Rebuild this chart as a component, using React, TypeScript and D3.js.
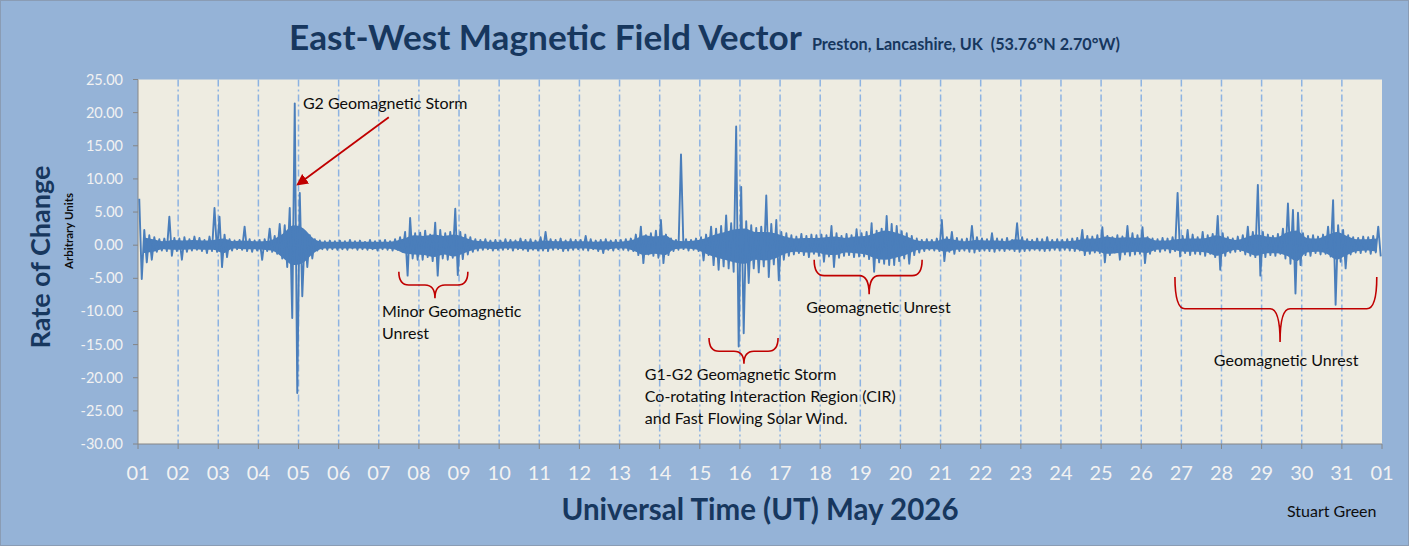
import React, { useEffect, useRef } from 'react'
import * as d3 from 'd3'

// tick labels
const dayLabels = [
  '01', '02', '03', '04', '05', '06', '07', '08', '09', '10', '11', '12', '13', '14', '15', '16',
  '17', '18', '19', '20', '21', '22', '23', '24', '25', '26', '27', '28', '29', '30', '31', '01',
]
const yTicks = [25, 20, 15, 10, 5, 0, -5, -10, -15, -20, -25, -30]

// peak envelope: one row per day (May 1..31), eight 3-hour blocks per row
const blockHigh = [
  [7.0, 2.3, 1.5, 1.2, 0.9, 1.0, 4.3, 1.1],
  [1.0, 1.2, 0.9, 1.3, 1.1, 0.8, 1.3, 5.6],
  [4.3, 1.6, 0.9, 0.7, 0.8, 2.8, 0.9, 0.7],
  [0.8, 0.9, 2.5, 1.4, 3.2, 3.0, 5.6, 21.4],
  [7.9, 1.8, 1.5, 0.9, 0.7, 0.6, 0.7, 0.6],
  [0.7, 0.6, 0.8, 0.6, 0.7, 0.5, 0.8, 0.6],
  [0.7, 0.8, 0.6, 0.9, 1.2, 2.0, 4.1, 1.8],
  [1.9, 2.2, 1.6, 3.4, 2.3, 1.8, 2.0, 5.5],
  [2.0, 1.6, 1.2, 0.9, 0.8, 0.9, 0.7, 0.8],
  [0.7, 0.9, 0.8, 0.7, 1.0, 0.8, 0.9, 0.7],
  [1.2, 2.0, 0.9, 0.8, 1.0, 0.7, 0.9, 0.8],
  [0.8, 1.4, 0.9, 0.7, 0.8, 0.9, 0.7, 0.8],
  [0.8, 0.9, 1.0, 1.6, 2.8, 1.5, 1.8, 2.2],
  [3.8, 1.6, 1.0, 0.8, 13.7, 0.9, 0.8, 1.0],
  [1.2, 1.6, 2.8, 2.5, 2.9, 4.5, 3.3, 17.9],
  [8.8, 3.6, 3.0, 2.6, 2.8, 7.5, 3.2, 3.8],
  [2.0, 1.8, 1.5, 1.3, 1.7, 1.4, 1.6, 1.5],
  [1.6, 1.5, 2.9, 1.8, 1.4, 1.7, 1.5, 2.4],
  [1.8, 2.0, 3.3, 2.2, 2.5, 4.4, 3.2, 2.9],
  [2.1, 1.8, 1.4, 1.0, 0.8, 0.9, 0.8, 1.0],
  [3.8, 1.2, 2.0, 1.1, 0.9, 1.0, 2.9, 1.2],
  [1.0, 0.9, 1.8, 1.0, 0.9, 1.1, 0.8, 3.3],
  [1.2, 0.9, 0.8, 1.0, 0.9, 1.2, 0.8, 0.9],
  [0.8, 0.9, 1.0, 1.1, 2.3, 1.4, 1.3, 1.5],
  [2.7, 1.4, 1.2, 1.5, 1.3, 2.9, 1.8, 1.5],
  [2.7, 1.2, 1.0, 0.9, 1.1, 1.0, 1.2, 7.9],
  [1.4, 2.3, 1.6, 1.2, 2.0, 1.5, 1.7, 4.4],
  [1.8, 1.2, 1.0, 1.3, 1.5, 2.8, 2.0, 9.1],
  [2.0, 1.6, 1.4, 1.7, 2.5, 6.3, 5.3, 4.9],
  [1.8, 1.4, 1.5, 1.3, 1.6, 2.8, 6.8, 3.0],
  [2.3, 1.5, 1.2, 1.1, 1.3, 1.2, 1.4, 2.8],
]
const blockLow = [
  [-5.1, -2.6, -2.2, -1.0, -0.8, -0.9, -1.6, -0.9],
  [-2.2, -1.0, -0.8, -0.7, -0.9, -1.2, -0.9, -1.0],
  [-3.3, -1.8, -0.8, -0.6, -0.7, -0.9, -1.0, -0.8],
  [-2.2, -0.9, -1.0, -1.3, -2.0, -3.3, -11.0, -22.3],
  [-7.7, -3.3, -2.0, -0.8, -0.6, -0.7, -0.6, -0.7],
  [-0.6, -0.7, -0.5, -0.7, -0.6, -0.7, -0.6, -0.8],
  [-0.6, -0.7, -0.8, -0.7, -1.0, -4.6, -2.0, -2.2],
  [-2.2, -1.8, -2.4, -4.6, -2.0, -2.2, -1.9, -4.5],
  [-2.1, -1.4, -1.0, -0.8, -0.7, -0.6, -0.8, -0.7],
  [-0.7, -0.6, -0.8, -0.6, -0.7, -0.9, -0.7, -0.8],
  [-0.8, -0.9, -0.7, -0.6, -0.9, -0.8, -0.7, -0.6],
  [-0.7, -0.8, -0.6, -0.9, -1.2, -0.7, -0.8, -0.6],
  [-0.7, -0.8, -0.9, -1.5, -2.7, -1.4, -1.6, -1.9],
  [-2.7, -1.5, -0.9, -0.7, -0.6, -0.8, -0.7, -0.9],
  [-2.3, -1.5, -3.0, -3.7, -3.2, -3.5, -4.0, -15.3],
  [-13.3, -5.7, -3.5, -4.1, -3.2, -4.8, -2.9, -5.3],
  [-2.2, -1.6, -1.4, -1.2, -1.5, -1.8, -1.3, -1.6],
  [-2.5, -1.7, -3.3, -1.9, -1.6, -1.5, -1.8, -1.7],
  [-1.7, -2.1, -4.0, -2.6, -2.8, -3.0, -3.0, -2.4],
  [-2.0, -2.8, -1.5, -1.1, -0.9, -0.7, -0.8, -0.9],
  [-2.4, -1.0, -1.3, -0.9, -0.8, -1.0, -1.1, -0.9],
  [-0.8, -0.9, -1.0, -0.8, -0.9, -0.7, -0.9, -1.0],
  [-0.9, -0.8, -0.7, -0.8, -0.9, -0.8, -0.7, -0.8],
  [-0.7, -0.8, -0.9, -0.8, -1.5, -1.3, -1.1, -1.2],
  [-2.6, -1.5, -1.1, -2.2, -1.4, -1.6, -1.4, -1.3],
  [-2.7, -1.3, -0.9, -1.0, -0.8, -1.1, -0.9, -1.7],
  [-1.2, -1.5, -1.3, -1.4, -1.6, -1.3, -1.8, -3.7],
  [-1.6, -1.1, -1.0, -0.9, -1.4, -1.6, -1.8, -4.6],
  [-1.8, -1.5, -1.6, -1.3, -2.0, -2.8, -7.3, -3.0],
  [-1.5, -1.6, -1.2, -1.4, -1.3, -1.7, -9.0, -2.5],
  [-3.5, -1.4, -1.1, -1.2, -1.0, -1.3, -1.1, -1.7],
]

// dense noise core of the trace: one row per day, four 6-hour blocks, [top, bottom]
const coreBand = [
  [[1.2, -1.2], [0.9, -1.0], [0.6, -0.6], [0.8, -0.7]],
  [[0.7, -0.7], [0.8, -0.6], [0.7, -0.7], [0.8, -0.7]],
  [[1.0, -1.2], [0.6, -0.5], [0.7, -0.6], [0.6, -0.6]],
  [[0.6, -0.7], [0.9, -0.9], [1.8, -2.0], [3.0, -3.0]],
  [[2.5, -2.6], [1.0, -1.2], [0.5, -0.5], [0.5, -0.5]],
  [[0.5, -0.5], [0.5, -0.5], [0.5, -0.5], [0.5, -0.6]],
  [[0.5, -0.5], [0.6, -0.6], [1.0, -1.2], [1.5, -1.4]],
  [[1.4, -1.5], [1.6, -1.8], [1.4, -1.4], [1.6, -1.7]],
  [[1.2, -1.2], [0.7, -0.7], [0.6, -0.5], [0.5, -0.6]],
  [[0.5, -0.5], [0.6, -0.5], [0.6, -0.6], [0.5, -0.6]],
  [[0.7, -0.6], [0.6, -0.5], [0.6, -0.6], [0.6, -0.5]],
  [[0.6, -0.5], [0.5, -0.6], [0.6, -0.7], [0.5, -0.5]],
  [[0.6, -0.5], [0.9, -0.9], [1.5, -1.5], [1.3, -1.3]],
  [[1.5, -1.5], [0.7, -0.6], [0.6, -0.5], [0.7, -0.6]],
  [[1.0, -1.2], [1.6, -1.8], [2.0, -2.2], [2.4, -2.6]],
  [[2.5, -2.8], [2.0, -2.2], [2.0, -2.3], [1.8, -2.0]],
  [[1.3, -1.3], [1.0, -1.0], [1.1, -1.1], [1.1, -1.1]],
  [[1.2, -1.4], [1.3, -1.5], [1.1, -1.1], [1.3, -1.2]],
  [[1.4, -1.4], [1.8, -2.0], [2.2, -2.2], [1.9, -1.9]],
  [[1.4, -1.5], [0.8, -0.8], [0.6, -0.6], [0.6, -0.6]],
  [[1.0, -1.0], [0.8, -0.7], [0.6, -0.6], [0.8, -0.7]],
  [[0.7, -0.6], [0.7, -0.6], [0.6, -0.6], [0.9, -0.7]],
  [[0.7, -0.6], [0.6, -0.6], [0.6, -0.6], [0.6, -0.5]],
  [[0.6, -0.5], [0.7, -0.6], [1.0, -1.0], [1.0, -0.9]],
  [[1.3, -1.3], [1.1, -1.2], [1.2, -1.1], [1.1, -1.0]],
  [[1.2, -1.2], [0.7, -0.7], [0.7, -0.6], [0.9, -0.8]],
  [[1.0, -1.0], [1.0, -1.0], [1.1, -1.1], [1.5, -1.6]],
  [[1.1, -1.1], [0.8, -0.7], [1.2, -1.1], [1.6, -1.6]],
  [[1.3, -1.2], [1.2, -1.2], [1.9, -1.6], [2.2, -2.4]],
  [[1.1, -1.1], [1.0, -1.0], [1.5, -1.3], [2.0, -2.2]],
  [[1.4, -1.5], [0.9, -0.9], [0.9, -0.8], [1.0, -1.0]],
]

// annotations, in chart units (days since May 1 00:00 UT, rate of change)
const braces = [
  { x0: 6.5, x1: 8.22, xm: 7.4, top: -4.0, bar: -6.0, tip: -8.0 },
  { x0: 14.23, x1: 15.95, xm: 15.1, top: -14.0, bar: -16.0, tip: -17.9 },
  { x0: 16.85, x1: 19.54, xm: 18.22, top: -2.2, bar: -4.6, tip: -7.4 },
  { x0: 25.84, x1: 30.87, xm: 28.46, top: -4.8, bar: -9.6, tip: -14.6 },
]
const notes = [
  { x: 4.11, y: 20.5, lines: ['G2 Geomagnetic Storm'] },
  { x: 6.08, y: -10.8, lines: ['Minor Geomagnetic', 'Unrest'] },
  { x: 12.63, y: -20.3, lines: ['G1-G2 Geomagnetic Storm', 'Co-rotating Interaction Region (CIR)', 'and Fast Flowing Solar Wind.'] },
  { x: 16.65, y: -10.3, lines: ['Geomagnetic Unrest'] },
  { x: 26.81, y: -18.2, lines: ['Geomagnetic Unrest'] },
]
const arrow = { from: [6.25, 19.3], to: [3.99, 9.2] }

const W = 1409
const H = 546
const FONT = 'Lato, "Open Sans", sans-serif'
const TRACE = '#4a7ebb'

const Chart = () => {
  const svgRef = useRef<SVGSVGElement>(null)

  useEffect(() => {
    if (!svgRef.current) return
    const svg = d3.select(svgRef.current)
    svg.selectAll('*').remove()

    const plot = { left: 138, right: 1382, top: 79.5, bottom: 444 }
    const x = d3.scaleLinear().domain([0, 31]).range([plot.left, plot.right])
    const y = d3.scaleLinear().domain([-30, 25]).range([plot.bottom, plot.top])

    // background
    svg.append('rect')
      .attr('x', 0.5).attr('y', 0.5)
      .attr('width', W - 1).attr('height', H - 1)
      .attr('fill', '#95b3d7')
      .attr('stroke', '#8a9cb4')

    svg.append('rect')
      .attr('x', plot.left).attr('y', plot.top)
      .attr('width', plot.right - plot.left).attr('height', plot.bottom - plot.top)
      .attr('fill', '#eeece1')

    // day gridlines
    svg.append('g')
      .selectAll('line')
      .data(d3.range(1, 31))
      .join('line')
      .attr('x1', d => x(d)).attr('x2', d => x(d))
      .attr('y1', plot.top).attr('y2', plot.bottom)
      .attr('stroke', '#8db3e2')
      .attr('stroke-width', 1.5)
      .attr('stroke-dasharray', '7,3,2,3')

    // y axis
    const yAxis = svg.append('g')
    yAxis.append('line')
      .attr('x1', plot.left).attr('x2', plot.left)
      .attr('y1', plot.top).attr('y2', plot.bottom)
      .attr('stroke', '#868686')
    yTicks.forEach(t => {
      yAxis.append('line')
        .attr('x1', plot.left - 5).attr('x2', plot.left)
        .attr('y1', y(t)).attr('y2', y(t))
        .attr('stroke', '#868686')
      yAxis.append('text')
        .attr('x', 123).attr('y', y(t) + 5)
        .attr('text-anchor', 'end')
        .attr('font-family', FONT)
        .attr('font-size', 14.5)
        .attr('fill', '#f2f2f2')
        .text(t.toFixed(2))
    })

    // x axis
    const xAxis = svg.append('g')
    xAxis.append('line')
      .attr('x1', plot.left).attr('x2', plot.right)
      .attr('y1', plot.bottom).attr('y2', plot.bottom)
      .attr('stroke', '#868686')
    dayLabels.forEach((lab, i) => {
      xAxis.append('line')
        .attr('x1', x(i)).attr('x2', x(i))
        .attr('y1', plot.bottom).attr('y2', plot.bottom + 5)
        .attr('stroke', '#868686')
      xAxis.append('text')
        .attr('x', x(i)).attr('y', 480)
        .attr('text-anchor', 'middle')
        .attr('font-family', FONT)
        .attr('font-size', 20)
        .attr('fill', '#f2f2f2')
        .text(lab)
    })

    // signal: dense core
    const core: { t: number; hi: number; lo: number }[] = []
    coreBand.forEach((row, day) => {
      row.forEach(([hi, lo], k) => core.push({ t: day + (k + 0.5) / 4, hi, lo }))
    })
    const area = d3.area<{ t: number; hi: number; lo: number }>()
      .x(d => x(d.t))
      .y0(d => y(d.lo))
      .y1(d => y(d.hi))
      .curve(d3.curveMonotoneX)
    svg.append('path')
      .datum(core)
      .attr('d', area)
      .attr('fill', TRACE)

    // signal: peaks
    const pts: [number, number][] = []
    blockHigh.forEach((row, day) => {
      row.forEach((hi, k) => {
        const t0 = day + k / 8
        pts.push([t0 + 1 / 32, hi])
        pts.push([t0 + 3 / 32, blockLow[day][k]])
      })
    })
    const line = d3.line<[number, number]>()
      .x(d => x(d[0]))
      .y(d => y(d[1]))
    svg.append('path')
      .datum(pts)
      .attr('d', line)
      .attr('fill', 'none')
      .attr('stroke', TRACE)
      .attr('stroke-width', 1.9)
      .attr('stroke-linejoin', 'round')

    // braces
    braces.forEach(b => {
      const r = 5
      const p = d3.path()
      p.moveTo(x(b.x0), y(b.top))
      p.quadraticCurveTo(x(b.x0), y(b.bar), x(b.x0) + r * 2, y(b.bar))
      p.lineTo(x(b.xm) - r * 2, y(b.bar))
      p.quadraticCurveTo(x(b.xm), y(b.bar), x(b.xm), y(b.tip))
      p.quadraticCurveTo(x(b.xm), y(b.bar), x(b.xm) + r * 2, y(b.bar))
      p.lineTo(x(b.x1) - r * 2, y(b.bar))
      p.quadraticCurveTo(x(b.x1), y(b.bar), x(b.x1), y(b.top))
      svg.append('path')
        .attr('d', p.toString())
        .attr('fill', 'none')
        .attr('stroke', '#c00000')
        .attr('stroke-width', 1.6)
    })

    // arrow
    svg.append('defs').append('marker')
      .attr('id', 'ahead')
      .attr('viewBox', '0 0 10 10')
      .attr('refX', 8).attr('refY', 5)
      .attr('markerWidth', 6.5).attr('markerHeight', 6.5)
      .attr('orient', 'auto')
      .append('path')
      .attr('d', 'M0,0 L10,5 L0,10 z')
      .attr('fill', '#c00000')
    svg.append('line')
      .attr('x1', x(arrow.from[0])).attr('y1', y(arrow.from[1]))
      .attr('x2', x(arrow.to[0])).attr('y2', y(arrow.to[1]))
      .attr('stroke', '#c00000')
      .attr('stroke-width', 1.8)
      .attr('marker-end', 'url(#ahead)')

    // notes
    notes.forEach(n => {
      const t = svg.append('text')
        .attr('font-family', FONT)
        .attr('font-size', 16)
        .attr('fill', '#0d0d0d')
      n.lines.forEach((l, i) => {
        t.append('tspan')
          .attr('x', x(n.x))
          .attr('y', y(n.y) + i * 22)
          .text(l)
      })
    })

    // titles
    const title = svg.append('text')
      .attr('x', W / 2).attr('y', 50)
      .attr('text-anchor', 'middle')
      .attr('font-family', FONT)
      .attr('font-weight', 'bold')
      .attr('fill', '#17375e')
    title.append('tspan').attr('font-size', 35.2).text('East-West Magnetic Field Vector')
    title.append('tspan').attr('font-size', 16.2).attr('dx', 10).text('Preston, Lancashire, UK  (53.76°N 2.70°W)')
      .attr('xml:space', 'preserve')

    svg.append('text')
      .attr('transform', 'translate(50,257) rotate(-90)')
      .attr('text-anchor', 'middle')
      .attr('font-family', FONT)
      .attr('font-weight', 'bold')
      .attr('font-size', 27)
      .attr('fill', '#17375e')
      .text('Rate of Change')

    svg.append('text')
      .attr('transform', 'translate(73,231) rotate(-90)')
      .attr('text-anchor', 'middle')
      .attr('font-family', FONT)
      .attr('font-weight', 'bold')
      .attr('font-size', 11.5)
      .attr('fill', '#0d0d0d')
      .text('Arbitrary Units')

    svg.append('text')
      .attr('x', 760).attr('y', 520)
      .attr('text-anchor', 'middle')
      .attr('font-family', FONT)
      .attr('font-weight', 'bold')
      .attr('font-size', 29.5)
      .attr('fill', '#17375e')
      .text('Universal Time (UT) May 2026')

    svg.append('text')
      .attr('x', 1287).attr('y', 517)
      .attr('font-family', FONT)
      .attr('font-size', 16)
      .attr('fill', '#0d0d0d')
      .text('Stuart Green')
  }, [])

  return <svg ref={svgRef} width={W} height={H} style={{ display: 'block' }} />
}

export default function App() {
  return (
    <div style={{ position: 'absolute', left: 0, top: 0 }}>
      <Chart />
    </div>
  )
}
